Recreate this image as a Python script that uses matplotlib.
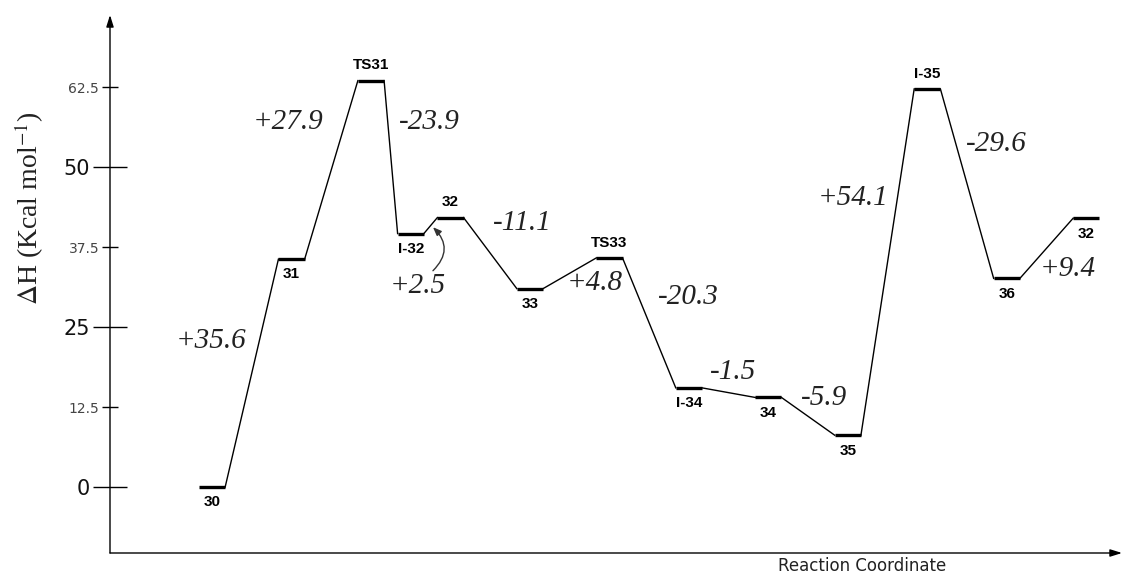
import matplotlib
matplotlib.use("Agg")
import matplotlib.pyplot as plt

plt.rcParams["mathtext.fontset"] = "stix"

# Species along the reaction coordinate
species = ["30", "31", "TS31", "I-32", "32", "33", "TS33", "I-34", "34", "35", "I-35", "36", "32"]
positions = [1, 2, 3, 3.5, 4, 5, 6, 7, 8, 9, 10, 11, 12]
enthalpy = [0.0, 35.6, 63.5, 39.6, 42.1, 31.0, 35.8, 15.5, 14.0, 8.1, 62.2, 32.6, 42.0]
label_side = ["below", "below", "above", "below", "above", "below", "above",
              "below", "below", "below", "above", "below", "below"]

# Enthalpy changes between consecutive species
step_labels = ["+35.6", "+27.9", "-23.9", "+2.5", "-11.1", "+4.8", "-20.3",
               "-1.5", "-5.9", "+54.1", "-29.6", "+9.4"]
step_label_xy = [(0.99, 22.8), (1.96, 57.0), (3.74, 57.0), (3.59, 31.4),
                 (4.91, 41.2), (5.81, 31.9), (6.99, 29.7), (7.55, 18.0),
                 (8.70, 13.9), (9.06, 45.2), (10.87, 53.6), (11.77, 34.1)]

major_ticks = [0, 25, 50]
minor_ticks = [12.5, 37.5, 62.5]

W, H = 1125, 578
fig = plt.figure(figsize=(W / 100, H / 100), dpi=100)
ax = fig.add_axes([110 / W, 25 / H, (1122 - 110) / W, (553 - 15) / H])
xmin, xmax = -0.284, 12.45
ymin, ymax = -10.3, 73.75
ax.set_xlim(xmin, xmax)
ax.set_ylim(ymin, ymax)

for s in ["top", "right", "left", "bottom"]:
    ax.spines[s].set_visible(False)

# Axes drawn as arrows
arrow_style = "-|>,head_length=0.7,head_width=0.22"
ax.annotate("", xy=(xmin, ymax), xytext=(xmin, ymin),
            arrowprops=dict(arrowstyle=arrow_style, color="black", lw=1.0,
                            shrinkA=0, shrinkB=0),
            annotation_clip=False)
ax.annotate("", xy=(xmax, ymin), xytext=(xmin, ymin),
            arrowprops=dict(arrowstyle=arrow_style, color="black", lw=1.0,
                            shrinkA=0, shrinkB=0),
            annotation_clip=False)

ax.set_xticks([])
ax.set_yticks(major_ticks, labels=[f"{v:g}" for v in major_ticks])
ax.set_yticks(minor_ticks, labels=[f"{v:g}" for v in minor_ticks], minor=True)
ax.tick_params(axis="y", which="major", direction="inout", length=25, width=1.0,
               labelsize=15, pad=2, colors="black", labelcolor="#111111")
ax.tick_params(axis="y", which="minor", direction="inout", length=11.5, width=1.0,
               labelsize=10, pad=2, colors="black", labelcolor="#444444")

ax.set_ylabel(r"$\Delta$H (Kcal mol$^{-1}$)", family="Liberation Serif",
              fontsize=20, color="#222222")
ax.yaxis.set_label_coords(-0.063, 0.64)

fig.text(862 / W, 1 - 566 / H, "Reaction Coordinate", fontsize=12,
         ha="center", va="center", family="DejaVu Sans", color="#222222")

# Energy profile: level bars joined by thin connectors
hw = 0.165
for i in range(len(positions)):
    x, y = positions[i], enthalpy[i]
    ax.plot([x - hw, x + hw], [y, y], color="black", lw=2.4, solid_capstyle="butt")
    if i + 1 < len(positions):
        ax.plot([x + hw, positions[i + 1] - hw], [y, enthalpy[i + 1]],
                color="black", lw=1.0)
    off = 11 if label_side[i] == "above" else -11
    ax.annotate(species[i], (x, y), xytext=(0, off), textcoords="offset points",
                ha="center", va="center", fontsize=11, fontweight="bold",
                family="Liberation Sans")

for txt, (tx, ty) in zip(step_labels, step_label_xy):
    ax.text(tx, ty, txt, ha="center", va="center", fontsize=21,
            family="Liberation Serif", style="italic", color="#222222")

# Curved pointer for the small I-32 -> 32 step
ax.annotate("", xy=(3.78, 40.6), xytext=(3.78, 33.8),
            arrowprops=dict(arrowstyle="-|>,head_length=0.5,head_width=0.2",
                            color="#333333", lw=1.0,
                            connectionstyle="arc3,rad=0.5",
                            shrinkA=0, shrinkB=0))

fig.savefig("out.png", dpi=100, facecolor="white")
